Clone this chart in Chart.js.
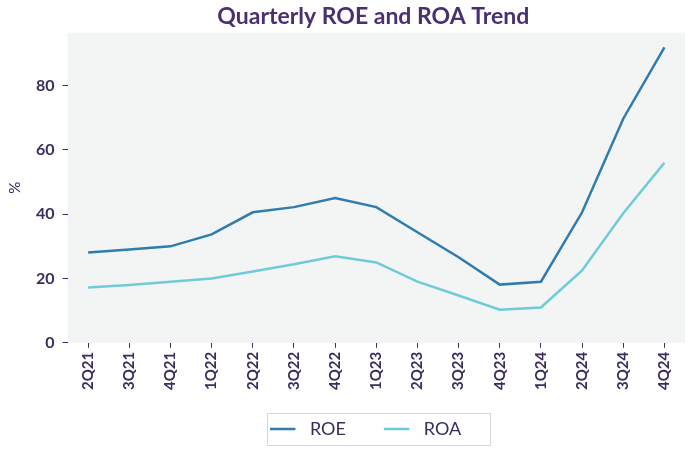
<!DOCTYPE html>
<html>
<head>
<meta charset="utf-8">
<script src="https://cdn.jsdelivr.net/npm/chart.js@4"></script>
<style>
  html, body { margin: 0; padding: 0; background: #fff; }
  #wrap { width: 697px; height: 455px; }
</style>
</head>
<body>
<div id="wrap"><canvas id="roeChart"></canvas></div>
<script>
// Dados
var quarters = ['2Q21', '3Q21', '4Q21', '1Q22', '2Q22', '3Q22', '4Q22', '1Q23',
                '2Q23', '3Q23', '4Q23', '1Q24', '2Q24', '3Q24', '4Q24'];
var roeValues = [28.1, 29, 30, 33.7, 40.6, 42.2, 45, 42.2, 34.4, 26.6, 18.1, 19, 40.6, 69.7, 91.9];
var roaValues = [17.2, 18, 19, 20, 22.2, 24.4, 26.9, 25, 19, 14.7, 10.3, 11, 22.5, 40.3, 56];
var yTicks = [0, 20, 40, 60, 80];

var textColor = '#3b2b5e';
var fontFamily = 'Lato, "Noto Sans", sans-serif';

// Fundo cinza da área do gráfico
var plotBackground = {
    id: 'plotBackground',
    beforeDraw: function(chart) {
        var a = chart.chartArea;
        var ctx = chart.ctx;
        ctx.save();
        ctx.fillStyle = '#f3f4f4';
        ctx.fillRect(a.left, a.top, a.right - a.left, a.bottom - a.top);
        ctx.restore();
    }
};

// Centraliza título e legenda sobre a área do gráfico e desce a legenda
var centerOnPlot = {
    id: 'centerOnPlot',
    afterLayout: function(chart) {
        var a = chart.chartArea;
        var delta = (a.left + a.right) / 2 - chart.width / 2;
        if (chart.titleBlock) {
            chart.titleBlock.left += delta;
            chart.titleBlock.right += delta;
        }
        if (chart.legend) {
            chart.legend.left += delta + 8;
            chart.legend.right += delta + 8;
            chart.legend.top += 12;
            chart.legend.bottom += 12;
        }
    }
};

// Moldura em volta da legenda
var legendFrame = {
    id: 'legendFrame',
    afterDraw: function(chart) {
        var boxes = chart.legend.legendHitBoxes;
        if (!boxes || !boxes.length) return;
        var left = boxes[0].left, right = boxes[0].left + boxes[0].width;
        var top = boxes[0].top, bottom = boxes[0].top + boxes[0].height;
        boxes.forEach(function(b) {
            left = Math.min(left, b.left);
            right = Math.max(right, b.left + b.width);
            top = Math.min(top, b.top);
            bottom = Math.max(bottom, b.top + b.height);
        });
        var ctx = chart.ctx;
        ctx.save();
        ctx.strokeStyle = '#d6d6d6';
        ctx.lineWidth = 1;
        ctx.strokeRect(Math.round(left - 7) + 0.5, Math.round(top - 7) + 0.5,
                       Math.round(right - left + 8), Math.round(bottom - top + 14));
        ctx.restore();
    }
};

var ctx = document.getElementById('roeChart').getContext('2d');
new Chart(ctx, {
    type: 'line',
    data: {
        labels: quarters,
        datasets: [{
            label: 'ROE',
            data: roeValues,
            borderColor: '#2f7cae',
            backgroundColor: '#2f7cae',
            borderWidth: 2.5,
            pointRadius: 0,
            tension: 0
        }, {
            label: 'ROA',
            data: roaValues,
            borderColor: '#6fcbd8',
            backgroundColor: '#6fcbd8',
            borderWidth: 2.5,
            pointRadius: 0,
            tension: 0
        }]
    },
    options: {
        responsive: true,
        maintainAspectRatio: false,
        animation: false,
        layout: { padding: { left: 6, right: 12, top: 0, bottom: 19 } },
        plugins: {
            title: {
                display: true,
                text: 'Quarterly ROE and ROA Trend',
                color: '#4a2f72',
                font: { family: fontFamily, size: 23, weight: 'bold' },
                padding: { top: 3, bottom: 2 }
            },
            legend: {
                position: 'bottom',
                labels: {
                    usePointStyle: true,
                    pointStyle: 'line',
                    boxWidth: 37,
                    padding: 14,
                    color: textColor,
                    font: { family: fontFamily, size: 18 },
                    generateLabels: function(chart) {
                        // espaço extra entre a linha e o texto, como na figura
                        var items = Chart.defaults.plugins.legend.labels.generateLabels(chart);
                        items.forEach(function(it) { it.text = '  ' + it.text + '      '; });
                        return items;
                    }
                }
            },
            tooltip: { enabled: false }
        },
        scales: {
            x: {
                offset: true,
                border: { display: false },
                grid: { display: true, drawOnChartArea: false, drawTicks: true, tickLength: 5, color: textColor, offset: false },
                ticks: {
                    minRotation: 90,
                    maxRotation: 90,
                    color: textColor,
                    padding: 4,
                    font: { family: fontFamily, size: 15, weight: 'bold' }
                }
            },
            y: {
                min: 0,
                max: 96.5,
                border: { display: false },
                grid: { display: true, drawOnChartArea: false, drawTicks: true, tickLength: 5, color: textColor },
                title: {
                    display: true,
                    text: '%',
                    color: textColor,
                    font: { family: fontFamily, size: 15 },
                    padding: { top: 0, bottom: 4 }
                },
                afterBuildTicks: function(axis) {
                    axis.ticks = yTicks.map(function(v) { return { value: v }; });
                },
                ticks: {
                    color: textColor,
                    padding: 8,
                    font: { family: fontFamily, size: 16, weight: 'bold' }
                }
            }
        }
    },
    plugins: [plotBackground, centerOnPlot, legendFrame]
});
</script>
</body>
</html>
